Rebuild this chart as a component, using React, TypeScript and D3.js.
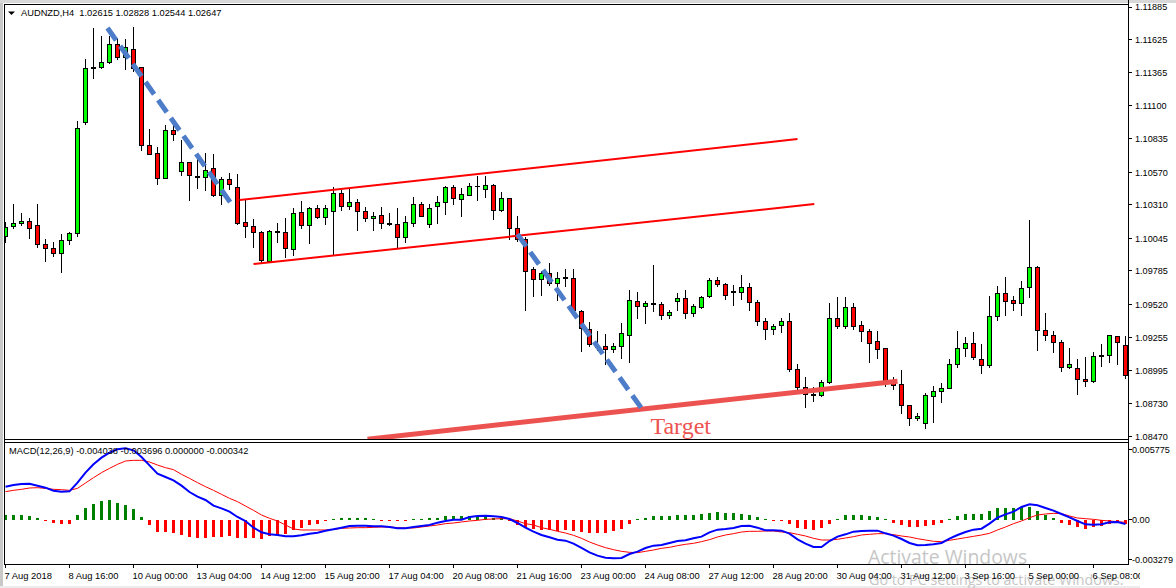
import React from "react";
import * as d3 from "d3";

// Prices in points (1 point = 0.00001)
const opens = [110057,110137,110163,110179,110148,109996,109965,109922,110026,110081,110965,111395,111402,111442,111588,111482,111548,111405,110784,110721,110519,110904,110575,110646,110540,110530,110601,110386,110514,110450,110171,110140,110092,109861,110100,110092,109956,110251,110147,110283,110208,110259,110402,110298,110330,110259,110203,110227,110162,110155,110052,110163,110314,110155,110298,110330,110450,110354,110386,110460,110434,110466,110267,110362,110123,110036,109797,109717,109765,109686,109735,109725,109465,109319,109188,109184,109160,109184,109272,109542,109502,109525,109518,109431,109542,109566,109447,109495,109582,109709,109678,109623,109614,109654,109534,109383,109319,109351,109383,109001,108858,108806,108794,108898,109407,109343,109495,109351,109303,109224,109168,108916,108881,108714,108611,108571,108786,108826,108850,109041,109168,109208,109080,109033,109423,109606,109550,109526,109654,109813,109311,109271,109216,109017,109009,108921,108905,109114,109112,109264,109192];
const closes = [110132,110163,110179,110121,109994,109962,109922,110028,110087,110920,111397,111405,111445,111588,111482,111564,111397,110782,110713,110522,110904,110869,110646,110543,110530,110588,110386,110514,110471,110163,110137,110092,109869,110100,110092,109964,110243,110147,110283,110208,110283,110402,110298,110330,110259,110203,110219,110163,110154,110052,110171,110314,110219,110283,110330,110450,110362,110394,110458,110456,110466,110267,110362,110123,110036,109781,109717,109765,109686,109725,109727,109473,109327,109200,109180,109160,109184,109288,109550,109502,109526,109517,109431,109455,109566,109447,109502,109574,109709,109678,109590,109615,109654,109534,109383,109319,109343,109383,109001,108858,108802,108798,108898,109407,109343,109495,109343,109303,109208,109160,108903,108876,108714,108611,108627,108794,108826,108850,109041,109168,109208,109096,109033,109423,109606,109542,109526,109646,109813,109311,109271,109216,109017,109041,108921,108905,109104,109106,109271,109216,108953];
const highs = [110177,110317,110243,110203,110317,110039,110012,110079,110092,110978,111471,111718,111654,111654,111636,111628,111723,111410,110914,110774,110943,110970,110827,110654,110715,110721,110715,110535,110564,110556,110349,110198,110100,110108,110163,110206,110283,110341,110296,110306,110306,110452,110428,110436,110354,110291,110251,110291,110243,110283,110219,110370,110330,110314,110381,110460,110466,110442,110482,110540,110540,110474,110410,110368,110219,110057,109813,109781,109845,109773,109797,109797,109473,109383,109311,109282,109216,109375,109630,109614,109550,109829,109542,109471,109606,109630,109526,109590,109733,109741,109686,109670,109757,109693,109558,109415,109367,109415,109447,109049,108940,108866,108916,109534,109582,109582,109534,109391,109327,109311,109172,108945,109001,108722,108659,108818,108874,108897,109088,109311,109256,109303,109208,109590,109669,109741,109590,109709,110187,109821,109447,109311,109240,109176,109088,109104,109144,109208,109275,109271,109271];
const lows = [110004,110121,110142,110039,109965,109858,109896,109771,109991,110057,110949,111312,111392,111432,111463,111387,111371,110742,110707,110469,110514,110821,110543,110344,110437,110423,110376,110312,110429,110150,110049,109970,109845,109856,110010,109890,109906,110121,110001,110200,110153,109908,110264,110272,110105,110176,110105,110121,110145,109964,110009,110137,110214,110129,110158,110232,110312,110214,110383,110344,110367,110192,110253,110033,110017,109468,109579,109587,109667,109548,109659,109457,109142,109181,109150,109038,109134,109086,109054,109404,109365,109460,109399,109407,109468,109404,109420,109479,109574,109659,109556,109508,109556,109468,109349,109237,109277,109293,108982,108837,108699,108744,108786,108890,109327,109327,109319,109221,109054,109086,108863,108836,108648,108553,108592,108529,108576,108736,108844,109014,109102,109080,108966,109017,109388,109428,109468,109428,109571,109149,109232,109134,108982,109006,108799,108863,108897,109022,109054,109038,108927];

// MACD pane values in millionths
const macdLine = [2716,2853,2935,2962,2798,2633,2386,2304,2332,3045,3868,4553,5102,5513,5788,5870,5705,5157,4471,3785,3511,3237,2798,2277,1893,1618,1152,933,658,219,-110,-658,-1042,-1207,-1262,-1372,-1372,-1289,-1152,-1070,-905,-795,-658,-521,-494,-494,-549,-549,-603,-713,-713,-603,-521,-439,-247,-110,0,0,219,302,329,274,219,55,-274,-658,-987,-1262,-1454,-1646,-1728,-1975,-2332,-2688,-2962,-3127,-3182,-3154,-2825,-2633,-2332,-2140,-2085,-1920,-1756,-1701,-1536,-1399,-1042,-823,-768,-686,-521,-494,-658,-878,-878,-905,-1152,-1618,-1975,-2249,-2249,-1756,-1399,-1207,-987,-933,-905,-905,-1125,-1317,-1591,-1920,-2112,-2085,-2030,-1920,-1564,-1262,-1015,-823,-741,-329,165,439,658,1042,1262,1179,960,741,466,192,-110,-384,-411,-384,-219,-192,-357];
const signalLine = [2304,2414,2496,2606,2633,2578,2496,2469,2414,2578,3017,3456,3868,4224,4553,4828,4883,4883,4745,4499,4279,4115,3730,3401,3045,2716,2414,2085,1756,1481,1125,768,384,110,-110,-439,-768,-850,-850,-850,-850,-795,-713,-686,-658,-658,-631,-603,-603,-658,-686,-686,-603,-521,-439,-329,-274,-192,-110,-55,27,55,82,82,-110,-329,-439,-658,-795,-960,-1097,-1289,-1536,-1838,-2085,-2304,-2469,-2606,-2688,-2716,-2606,-2496,-2359,-2277,-2140,-2030,-1948,-1810,-1646,-1426,-1262,-1152,-1015,-960,-960,-933,-933,-1015,-1070,-1207,-1344,-1536,-1673,-1673,-1618,-1509,-1399,-1262,-1207,-1152,-1152,-1234,-1344,-1426,-1564,-1673,-1783,-1810,-1701,-1591,-1481,-1372,-1262,-1125,-850,-603,-329,-110,165,384,466,521,494,302,137,82,27,-55,-110,-165,-219];
const histogram = [411,384,384,329,137,-55,-247,-329,-329,357,987,1317,1509,1591,1399,1234,905,247,-411,-987,-1042,-1097,-1234,-1426,-1481,-1481,-1426,-1426,-1317,-1481,-1481,-1481,-1564,-1344,-1262,-1152,-823,-686,-439,-329,-110,55,110,137,165,137,82,-27,-137,-137,-110,55,82,137,165,329,329,329,329,329,329,165,165,-137,-439,-713,-795,-878,-878,-933,-823,-933,-1015,-1070,-1070,-1070,-905,-795,-329,27,137,329,329,329,411,411,411,494,576,658,576,576,494,411,247,82,-55,-82,-329,-658,-795,-878,-713,-329,55,357,411,411,329,247,27,-247,-411,-576,-576,-494,-411,-247,82,329,494,494,494,741,987,987,987,1070,1070,741,411,165,-247,-411,-576,-741,-576,-494,-329,-302,-329];

const priceTicks = [1.11885,1.11625,1.11365,1.111,1.10835,1.1057,1.1031,1.10045,1.09785,1.0952,1.09255,1.08995,1.0873,1.0847];
const macdTicks = [0.005775,0,-0.003279];
const macdTickLabels = ["0.005775","0.00","-0.003279"];
const timeLabels = ["7 Aug 2018","8 Aug 16:00","10 Aug 00:00","13 Aug 04:00","14 Aug 12:00","15 Aug 20:00","17 Aug 04:00","20 Aug 08:00","21 Aug 16:00","23 Aug 00:00","24 Aug 08:00","27 Aug 12:00","28 Aug 20:00","30 Aug 04:00","31 Aug 12:00","3 Sep 16:00","5 Sep 00:00","6 Sep 08:00"];
const TIME_STEP = 8; // bars between time labels

// Drawn objects: [bar index, price]
const trendDown1: [number, number][] = [[12.75,1.11718],[28.25,1.10317]];
const trendDown2: [number, number][] = [[64,1.10078],[79.5,1.08693]];
const channelUpper: [number, number][] = [[29.25,1.10349],[99,1.10835]];
const channelLower: [number, number][] = [[31,1.0984],[101.1,1.10317]];
const targetLine: [number, number][] = [[45.25,1.08447],[111.5,1.08908]];
const targetLabelAt: [number, number] = [84.4,1.0849];

const title = "AUDNZD,H4  1.02615 1.02828 1.02544 1.02647";
const macdTitle = "MACD(12,26,9) -0.004038 -0.003696 0.000000 -0.000342";

const W = 1176, H = 588;
const LEFT = 4, RIGHT = 1128, TOP = 4, P1B = 439, P2T = 442, P2B = 565;
const FONT = "'Liberation Sans', Arial, sans-serif";
const BULL = "#00ff00", BEAR = "#ff0000";

const x = d3.scaleLinear().domain([0, 140]).range([5.5, 1125.5]);
const y = d3.scaleLinear().domain([1.11885, 1.0847]).range([7, 436.3]);
const ym = d3.scaleLinear().domain([0.005775, -0.003279]).range([449.5, 559.5]);
const snap = (v: number) => Math.round(v - 0.5) + 0.5;
const pt = (p: number) => y(p / 1e5);
const lineP = d3.line<[number, number]>().x(d => x(d[0])).y(d => y(d[1]));
const lineM = d3.line<number>().x((_, i) => x(i)).y(d => ym(d / 1e6));

export default function App() {
  return (
    <svg width={W} height={H} viewBox={`0 0 ${W} ${H}`} style={{ position: "absolute", left: 0, top: 0, background: "#fff" }} fontFamily={FONT}>
      <defs>
        <clipPath id="p1"><rect x={LEFT} y={TOP} width={RIGHT - LEFT} height={P1B - TOP} /></clipPath>
        <clipPath id="p2"><rect x={LEFT} y={P2T} width={RIGHT - LEFT} height={P2B - P2T} /></clipPath>
        <clipPath id="timeClip"><rect x={0} y={P2B} width={1140} height={H - P2B} /></clipPath>
      </defs>

      {/* window chrome */}
      <rect x={0} y={0} width={3} height={H} fill="#c8c8c8" />
      <rect x={0} y={0} width={W} height={3} fill="#d8d8d8" />
      <rect x={0} y={586} width={1140} height={2} fill="#ececec" />

      {/* watermark */}
      <g fontFamily="'Open Sans', sans-serif" fill="#c6c6c6">
        <g clipPath="url(#p2)"><text x={868} y={564} fontSize={19.4}>Activate Windows</text></g>
        <text x={869} y={585} fontSize={14.3}>Go to PC settings to activate Windows.</text>
      </g>

      {/* candles */}
      <g clipPath="url(#p1)" shapeRendering="crispEdges">
        {opens.map((o, i) => {
          const c = closes[i];
          const cx = x(i);
          const top = snap(pt(Math.max(o, c)));
          const bot = snap(pt(Math.min(o, c)));
          const doji = bot - top < 1;
          return (
            <g key={i}>
              <line x1={cx} x2={cx} y1={pt(highs[i])} y2={pt(lows[i])} stroke="#000" />
              {doji
                ? <line x1={cx - 2.5} x2={cx + 2.5} y1={top} y2={top} stroke="#000" strokeWidth={1.6} />
                : <rect x={cx - 2} y={top} width={4} height={bot - top} fill={c > o ? BULL : BEAR} stroke="#000" />}
            </g>
          );
        })}
      </g>

      {/* annotations */}
      <g clipPath="url(#p1)" fill="none">
        <path d={lineP(channelUpper)!} stroke="#ff0000" strokeWidth={2} />
        <path d={lineP(channelLower)!} stroke="#ff0000" strokeWidth={2} />
        <path d={lineP(targetLine)!} stroke="#ec5350" strokeWidth={5} />
        <path d={lineP(trendDown1)!} stroke="#4d7cc9" strokeWidth={5} strokeDasharray="15 7" />
        <path d={lineP(trendDown2)!} stroke="#4d7cc9" strokeWidth={5} strokeDasharray="15 7" />
      </g>
      <text x={x(targetLabelAt[0])} y={y(targetLabelAt[1])} fontFamily="'Liberation Serif', serif" fontSize={24} fill="#ec5350" textAnchor="middle">Target</text>

      {/* title */}
      <path d="M8 11.5 L15 11.5 L11.5 15 Z" fill="#000" />
      <text x={21} y={16} fontSize={9.3} fill="#000" xmlSpace="preserve">{title}</text>

      {/* MACD pane */}
      <g clipPath="url(#p2)">
        <g shapeRendering="crispEdges">
          {histogram.map((v, i) => {
            const y0 = ym(0), y1 = ym(v / 1e6);
            return <rect key={i} x={x(i) - 1.5} width={3} y={Math.min(y0, y1)} height={Math.max(1, Math.abs(y1 - y0))} fill={v >= 0 ? "#008000" : "#ff0000"} />;
          })}
        </g>
        <path d={lineM(signalLine)!} fill="none" stroke="#ff0000" strokeWidth={1} />
        <path d={lineM(macdLine)!} fill="none" stroke="#0000ff" strokeWidth={2} />
      </g>
      <text x={9} y={454} fontSize={9.3} fill="#000">{macdTitle}</text>

      {/* frame */}
      <g shapeRendering="crispEdges" stroke="#000" fill="none">
        <line x1={4.5} x2={4.5} y1={TOP} y2={P2B} />
        <line x1={4} x2={RIGHT} y1={4.5} y2={4.5} />
        <line x1={4} x2={RIGHT} y1={P1B + 0.5} y2={P1B + 0.5} />
        <line x1={4} x2={RIGHT} y1={P2T + 0.5} y2={P2T + 0.5} />
        <line x1={4} x2={RIGHT + 1} y1={P2B - 0.5} y2={P2B - 0.5} />
        <line x1={RIGHT + 0.5} x2={RIGHT + 0.5} y1={0} y2={P2B} />
        {priceTicks.map(t => <line key={t} x1={RIGHT} x2={RIGHT + 4} y1={snap(y(t))} y2={snap(y(t))} />)}
        {macdTicks.map(t => <line key={t} x1={RIGHT} x2={RIGHT + 4} y1={snap(ym(t))} y2={snap(ym(t))} />)}
        {timeLabels.map((_, k) => <line key={k} x1={x(k * TIME_STEP)} x2={x(k * TIME_STEP)} y1={P2B} y2={P2B + 3} />)}
      </g>

      {/* axis labels */}
      <g fill="#000">
        <g fontSize={9.1}>
          {priceTicks.map(t => <text key={t} x={1135} y={y(t)} dy="0.36em">{t.toFixed(5)}</text>)}
          {macdTicks.map((t, k) => <text key={t} x={1132} y={ym(t)} dy="0.36em">{macdTickLabels[k]}</text>)}
        </g>
        <g clipPath="url(#timeClip)" fontSize={9.4}>
          {timeLabels.map((l, k) => <text key={l} x={x(k * TIME_STEP) - 1} y={579}>{l}</text>)}
        </g>
      </g>
    </svg>
  );
}
